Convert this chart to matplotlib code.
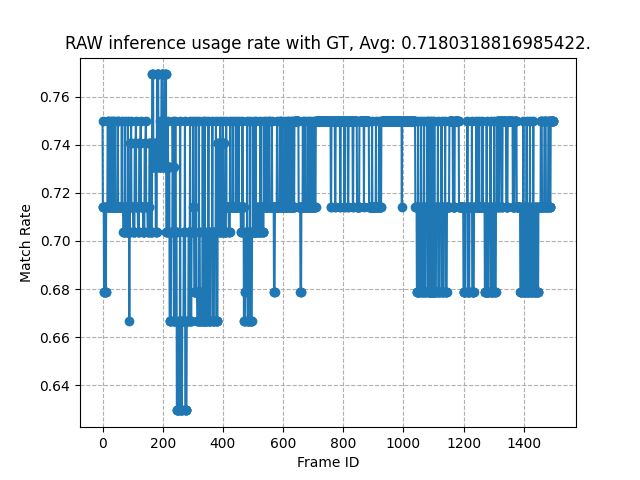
import numpy as np
import matplotlib
matplotlib.use("Agg")
import matplotlib.pyplot as plt

# match-rate levels seen in the plot
A = 0.75      # 3/4
B = 0.7407    # 20/27
C = 0.7308    # 19/26
D = 0.7143    # 5/7
E = 0.7037    # 19/27
F = 0.6786    # 19/28
G = 0.6667    # 2/3
H = 0.7692    # 10/13
I = 0.6296    # 17/27

# run-length description of the per-frame match rate
run_vals = [
    # 0 - 59
    A, D, F, D, F, D, A, D, A, D, A, D, A, D, A, D,
    # 59 - 92
    D, A, D, E, A, D, E, A, E, G, E,
    # 92 - 154
    B, A, D, E, B, A, D, E, B, A, D, E, B, A, D, E,
    # 154 - 191
    D, B, E, H, C, B, E, H, C, A,
    # 191 - 237
    C, H, A, C, H, E, A, C, G, E, A, C,
    # 237 - 302
    G, A, E, I, G, A, I, G, E, A, I, G, E, A, G, E, A,
    # 302 - 334
    D, F, A, F, G, A, E, G, F, A,
    # 334 - 407
    G, A, G, E, A, G, E, A, G, E, A, G, B, E, A, B, E, A, B, E,
    # 407 - 537
    E, A, D, E, A, D, A, D, A, D, A, D,
    E, A, D, G, F, E, A, G, E, A, G, E, A, E, A, E, D,
    E, A, D, E, A,
    # 537 - 634
    D, A, D, A, D, A, D, F, D, A, D, A, D, A, D, A, D, A, D, A,
    # 634 - 717
    D, A, D, A, D, F, D, A, D, A, D, A, D, A, D, A, D, A, D,
    # 717 - 767
    A,
    # 767 - 854
    D, A, D, A, D, A, D, A, D, A, D, A,
    # 854 - 1003
    D, A, D, A, D, A, D, A, D, A, D, A,
    # 1003 - 1048
    D, A,
    # 1048 - 1089
    D, F, A, F, D, A, F, D, A, F, D, A,
    # 1089 - 1117
    A, F, A, F, A, F, A, F,
    # 1117 - 1153
    D, A, F, D, A, F, D, A, F,
    # 1153 - 1208
    D, A, D, A, D,
    # 1208 - 1279
    F, D, A, F, D, A, F, D, A, D, A, D, A, D,
    # 1279 - 1316
    F, A, F, D, A, F, D, A, F,
    # 1316 - 1397
    D, A, D, A, D, A, D, A, D, A, D,
    # 1397 - 1457
    F, D, A, F, D, A, F, D, A, F, D, A, F, D, F,
    # 1457 - 1500
    D, A, D, A, D, A, D, A,
]

run_lens = [
    1, 4, 3, 1, 3, 5, 2, 6, 1, 7, 2, 6, 1, 8, 2, 7,
    5, 1, 4, 5, 1, 5, 4, 1, 4, 1, 2,
    3, 1, 6, 5, 4, 1, 6, 4, 5, 1, 7, 5, 4, 1, 5, 4,
    2, 4, 5, 4, 5, 3, 4, 5, 4, 1,
    5, 5, 1, 6, 4, 5, 1, 5, 5, 5, 1, 3,
    5, 1, 4, 6, 5, 1, 6, 5, 4, 1, 5, 6, 5, 1, 4, 5, 1,
    3, 5, 1, 4, 5, 1, 3, 5, 4, 1,
    6, 1, 6, 5, 1, 6, 6, 1, 5, 6, 1, 5, 3, 5, 1, 4, 4, 1, 3, 3,
    4, 1, 8, 4, 1, 8, 1, 9, 1, 8, 1, 7,
    5, 1, 4, 4, 2, 5, 1, 5, 4, 1, 5, 5, 1, 6, 1, 5, 4,
    6, 1, 5, 5, 1,
    8, 1, 7, 2, 8, 1, 6, 3, 7, 1, 8, 2, 7, 1, 8, 1, 7, 2, 8, 1,
    5, 1, 6, 14, 6, 3, 5, 1, 7, 1, 8, 1, 6, 1, 7, 1, 6, 1, 3,
    50,
    2, 12, 2, 15, 2, 12, 2, 10, 2, 14, 2, 12,
    8, 15, 1, 16, 10, 1, 12, 1, 10, 1, 6, 68,
    1, 44,
    5, 4, 1, 4, 5, 1, 5, 4, 1, 5, 5, 1,
    1, 6, 1, 7, 1, 6, 1, 5,
    6, 1, 5, 6, 1, 5, 6, 1, 5,
    8, 12, 6, 14, 15,
    6, 7, 1, 6, 8, 1, 6, 8, 1, 8, 1, 10, 1, 7,
    6, 1, 6, 6, 1, 6, 5, 1, 5,
    3, 6, 3, 7, 3, 12, 5, 17, 6, 7, 12,
    6, 4, 1, 6, 4, 1, 6, 4, 1, 6, 4, 1, 6, 4, 6,
    8, 4, 8, 5, 8, 4, 4, 10,
]

rate = np.repeat(run_vals, run_lens)
frame_id = np.arange(len(rate))

plt.figure(figsize=(6.4, 4.8), dpi=100)
plt.plot(frame_id, rate, marker='o')
plt.title('RAW inference usage rate with GT, Avg: 0.7180318816985422.')
plt.xlabel('Frame ID')
plt.ylabel('Match Rate')
plt.grid(True, linestyle='--')
plt.savefig('out.png')
